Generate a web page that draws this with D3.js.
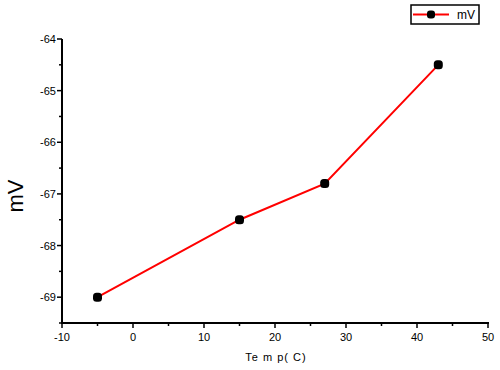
<!DOCTYPE html>
<html>
<head>
<meta charset="utf-8">
<script src="https://cdn.jsdelivr.net/npm/d3@7"></script>
<style>
  body { margin: 0; background: #fff; }
  svg { display: block; font-family: "Liberation Sans", Arial, sans-serif; }
</style>
</head>
<body>
<div id="chart"></div>
<script>
// data
var temps = [-5, 15, 27, 43];
var mv = [-69, -67.5, -66.8, -64.5];
var xTicks = [-10, 0, 10, 20, 30, 40, 50];
var yTicks = [-69, -68, -67, -66, -65, -64];
var seriesName = "mV";

var width = 500, height = 370;

var svg = d3.select("#chart").append("svg")
    .attr("width", width)
    .attr("height", height);

var x = d3.scaleLinear().domain([-10, 50]).range([62, 488]);
var y = d3.scaleLinear().domain([-69.5, -64]).range([323, 39]);

var data = temps.map(function (t, i) { return { t: t, v: mv[i] }; });

// x axis
var xAxis = svg.append("g").attr("transform", "translate(0," + y(-69.5) + ")");
xAxis.append("line")
    .attr("x1", x(-10) - 1).attr("x2", x(50) + 1)
    .attr("stroke", "#000").attr("stroke-width", 2);
xAxis.selectAll(".maj").data(xTicks).enter().append("line")
    .attr("x1", d => x(d)).attr("x2", d => x(d))
    .attr("y1", 0).attr("y2", 5)
    .attr("stroke", "#000").attr("stroke-width", 1.5);
xAxis.selectAll(".min").data(d3.range(-5, 50, 10)).enter().append("line")
    .attr("x1", d => x(d)).attr("x2", d => x(d))
    .attr("y1", 0).attr("y2", 3)
    .attr("stroke", "#000").attr("stroke-width", 1.5);
xAxis.selectAll("text").data(xTicks).enter().append("text")
    .attr("x", d => x(d)).attr("y", 18)
    .attr("text-anchor", "middle")
    .attr("font-size", 11)
    .text(d => d);

// y axis
var yAxis = svg.append("g").attr("transform", "translate(" + x(-10) + ",0)");
yAxis.append("line")
    .attr("y1", y(-64)).attr("y2", y(-69.5) + 1)
    .attr("stroke", "#000").attr("stroke-width", 2);
yAxis.selectAll(".maj").data(yTicks).enter().append("line")
    .attr("x1", -5).attr("x2", 0)
    .attr("y1", d => y(d)).attr("y2", d => y(d))
    .attr("stroke", "#000").attr("stroke-width", 1.5);
yAxis.selectAll(".min").data(d3.range(-69.5, -64, 1)).enter().append("line")
    .attr("x1", -3).attr("x2", 0)
    .attr("y1", d => y(d)).attr("y2", d => y(d))
    .attr("stroke", "#000").attr("stroke-width", 1.5);
yAxis.selectAll("text").data(yTicks).enter().append("text")
    .attr("x", -6).attr("y", d => y(d) + 4)
    .attr("text-anchor", "end")
    .attr("font-size", 11)
    .text(d => d);

// axis titles
svg.append("text")
    .attr("transform", "translate(23,196) rotate(-90)")
    .attr("text-anchor", "middle")
    .attr("font-size", 22)
    .text("mV");
svg.append("text")
    .attr("x", 276).attr("y", 361)
    .attr("text-anchor", "middle")
    .attr("font-size", 11)
    .attr("letter-spacing", 1)
    .text("Te m p( C)");

// series
var line = d3.line().x(d => x(d.t)).y(d => y(d.v));
svg.append("path")
    .datum(data)
    .attr("d", line)
    .attr("fill", "none")
    .attr("stroke", "#ff0000")
    .attr("stroke-width", 2);
svg.selectAll(".pt").data(data).enter().append("rect")
    .attr("x", d => x(d.t) - 4.5).attr("y", d => y(d.v) - 4.5)
    .attr("width", 9).attr("height", 9)
    .attr("rx", 3.5)
    .attr("fill", "#000");

// legend
var lg = svg.append("g").attr("transform", "translate(411,5)");
lg.append("rect")
    .attr("width", 68).attr("height", 19)
    .attr("fill", "#fff").attr("stroke", "#000").attr("stroke-width", 1.5);
lg.append("line")
    .attr("x1", 2).attr("x2", 38).attr("y1", 9.5).attr("y2", 9.5)
    .attr("stroke", "#ff0000").attr("stroke-width", 2);
lg.append("rect")
    .attr("x", 16).attr("y", 5.5).attr("width", 8).attr("height", 8)
    .attr("rx", 3)
    .attr("fill", "#000");
lg.append("text")
    .attr("x", 46).attr("y", 14)
    .attr("font-size", 12)
    .text(seriesName);
</script>
</body>
</html>
